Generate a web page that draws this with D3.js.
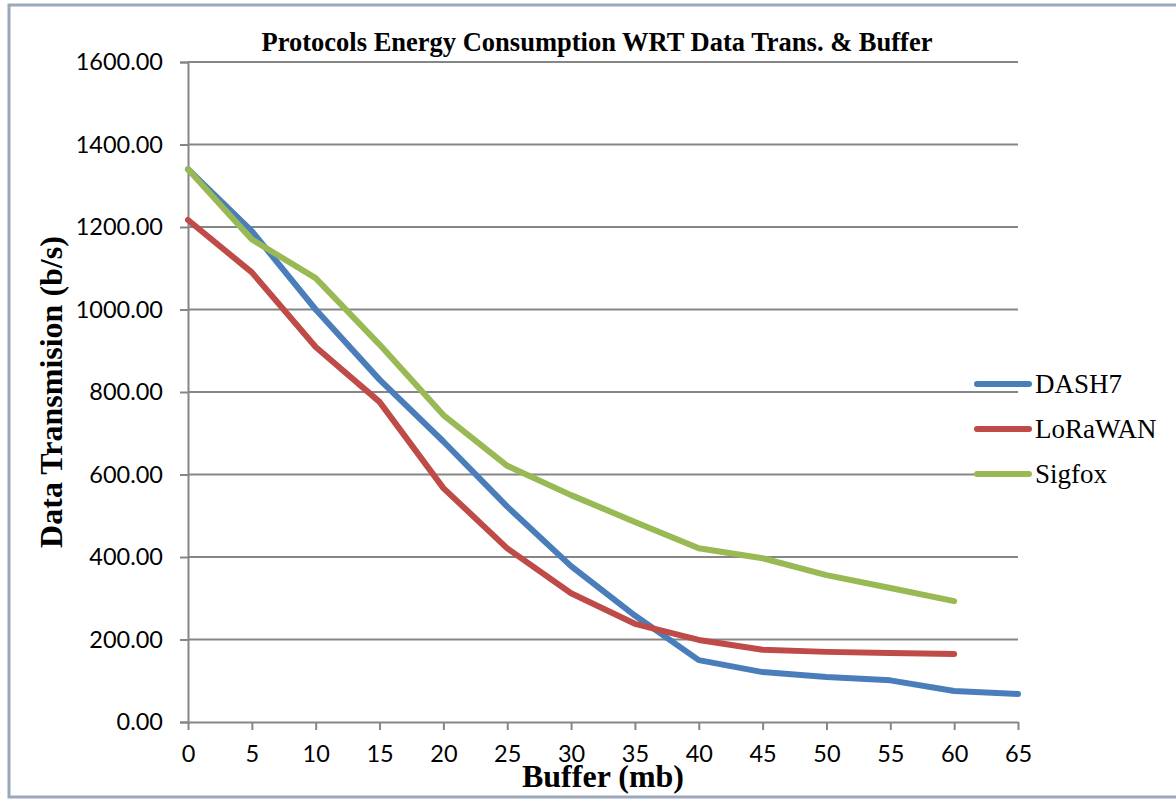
<!DOCTYPE html>
<html>
<head>
<meta charset="utf-8">
<script src="https://cdn.jsdelivr.net/npm/d3@7/dist/d3.min.js"></script>
<style>
  body { margin: 0; background: #fff; }
  svg { display: block; }
</style>
</head>
<body>
<div id="view"></div>
<script>
var width = 1176, height = 799;

// chart data
var buffer = [0, 5, 10, 15, 20, 25, 30, 35, 40, 45, 50, 55, 60, 65];
var dash7 = [1340, 1190, 1000, 830, 680, 522, 378, 258, 150, 121, 109, 101, 75, 68];
var lorawan = [1217, 1090, 909, 776, 567, 421, 312, 238, 199, 175, 170, 167, 165];
var sigfox = [1340, 1170, 1076, 915, 744, 621, 550, 485, 421, 397, 356, 325, 293];
var seriesNames = ["DASH7", "LoRaWAN", "Sigfox"];
var seriesColors = ["#4a7ebb", "#be4b48", "#98b954"];
var yTicks = [0, 200, 400, 600, 800, 1000, 1200, 1400, 1600];

var margin = { left: 188, top: 62, right: 1018, bottom: 722 };
var serif = "'Liberation Serif', 'Times New Roman', serif";
var sans = "Lato, 'Open Sans', sans-serif";

var svg = d3.select("#view").append("svg")
	.attr("width", width)
	.attr("height", height);

// outer frame
svg.append("rect")
	.attr("x", 9).attr("y", 5)
	.attr("width", 1200).attr("height", 792)
	.attr("fill", "#fff")
	.attr("stroke", "#9aa8bb")
	.attr("stroke-width", 3);

var x = d3.scaleLinear().domain([0, 65]).range([margin.left, margin.right]);
var y = d3.scaleLinear().domain([0, 1600]).range([margin.bottom, margin.top]);

// gridlines + y axis
var yAxis = d3.axisLeft(y).tickValues(yTicks)
	.tickSize(8)
	.tickFormat(function(d) { return d.toFixed(2); });
var gy = svg.append("g").attr("transform", "translate(" + margin.left + ",0)").call(yAxis);
gy.select(".domain").attr("stroke", "#868686").attr("stroke-width", 2);
gy.selectAll(".tick line").attr("stroke", "#868686").attr("stroke-width", 2);
gy.selectAll(".tick text")
	.attr("x", -25)
	.style("font-family", sans)
	.style("font-size", "23.5px")
	.attr("fill", "#000");

svg.append("g").selectAll("line.grid")
	.data(yTicks.slice(1)).enter()
	.append("line")
	.attr("class", "grid")
	.attr("x1", margin.left).attr("x2", margin.right)
	.attr("y1", function(d) { return y(d); })
	.attr("y2", function(d) { return y(d); })
	.attr("stroke", "#868686")
	.attr("stroke-width", 2);

// x axis
var xAxis = d3.axisBottom(x).tickValues(buffer).tickSize(8).tickSizeOuter(0);
var gx = svg.append("g").attr("transform", "translate(0," + margin.bottom + ")").call(xAxis);
gx.select(".domain").attr("stroke", "#868686").attr("stroke-width", 2);
gx.selectAll(".tick line").attr("stroke", "#868686").attr("stroke-width", 2);
gx.selectAll(".tick text")
	.attr("y", 23)
	.style("font-family", sans)
	.style("font-size", "23.5px")
	.attr("fill", "#000");

// lines
var line = d3.line()
	.x(function(d, i) { return x(buffer[i]); })
	.y(function(d) { return y(d); });

[dash7, lorawan, sigfox].forEach(function(s, k) {
	svg.append("path")
		.datum(s)
		.attr("d", line)
		.attr("fill", "none")
		.attr("stroke", seriesColors[k])
		.attr("stroke-width", 6)
		.attr("stroke-linejoin", "round")
		.attr("stroke-linecap", "round");
});

// title
svg.append("text")
	.attr("x", 597).attr("y", 51)
	.attr("text-anchor", "middle")
	.style("font-family", serif)
	.style("font-weight", "bold")
	.style("font-size", "26.5px")
	.text("Protocols Energy Consumption WRT Data Trans. & Buffer");

// axis titles
svg.append("text")
	.attr("transform", "translate(62,392) rotate(-90)")
	.attr("text-anchor", "middle")
	.style("font-family", serif)
	.style("font-weight", "bold")
	.style("font-size", "32px")
	.text("Data Transmision (b/s)");

svg.append("text")
	.attr("x", 603).attr("y", 787)
	.attr("text-anchor", "middle")
	.style("font-family", serif)
	.style("font-weight", "bold")
	.style("font-size", "32px")
	.text("Buffer (mb)");

// legend
var legend = svg.append("g").selectAll("g")
	.data(seriesNames).enter()
	.append("g")
	.attr("transform", function(d, i) { return "translate(977," + (384 + i * 45) + ")"; });
legend.append("line")
	.attr("x1", 0).attr("x2", 52)
	.attr("stroke", function(d, i) { return seriesColors[i]; })
	.attr("stroke-width", 6)
	.attr("stroke-linecap", "round");
legend.append("text")
	.attr("x", 58).attr("y", 9)
	.style("font-family", serif)
	.style("font-size", "27px")
	.text(function(d) { return d; });
</script>
</body>
</html>
